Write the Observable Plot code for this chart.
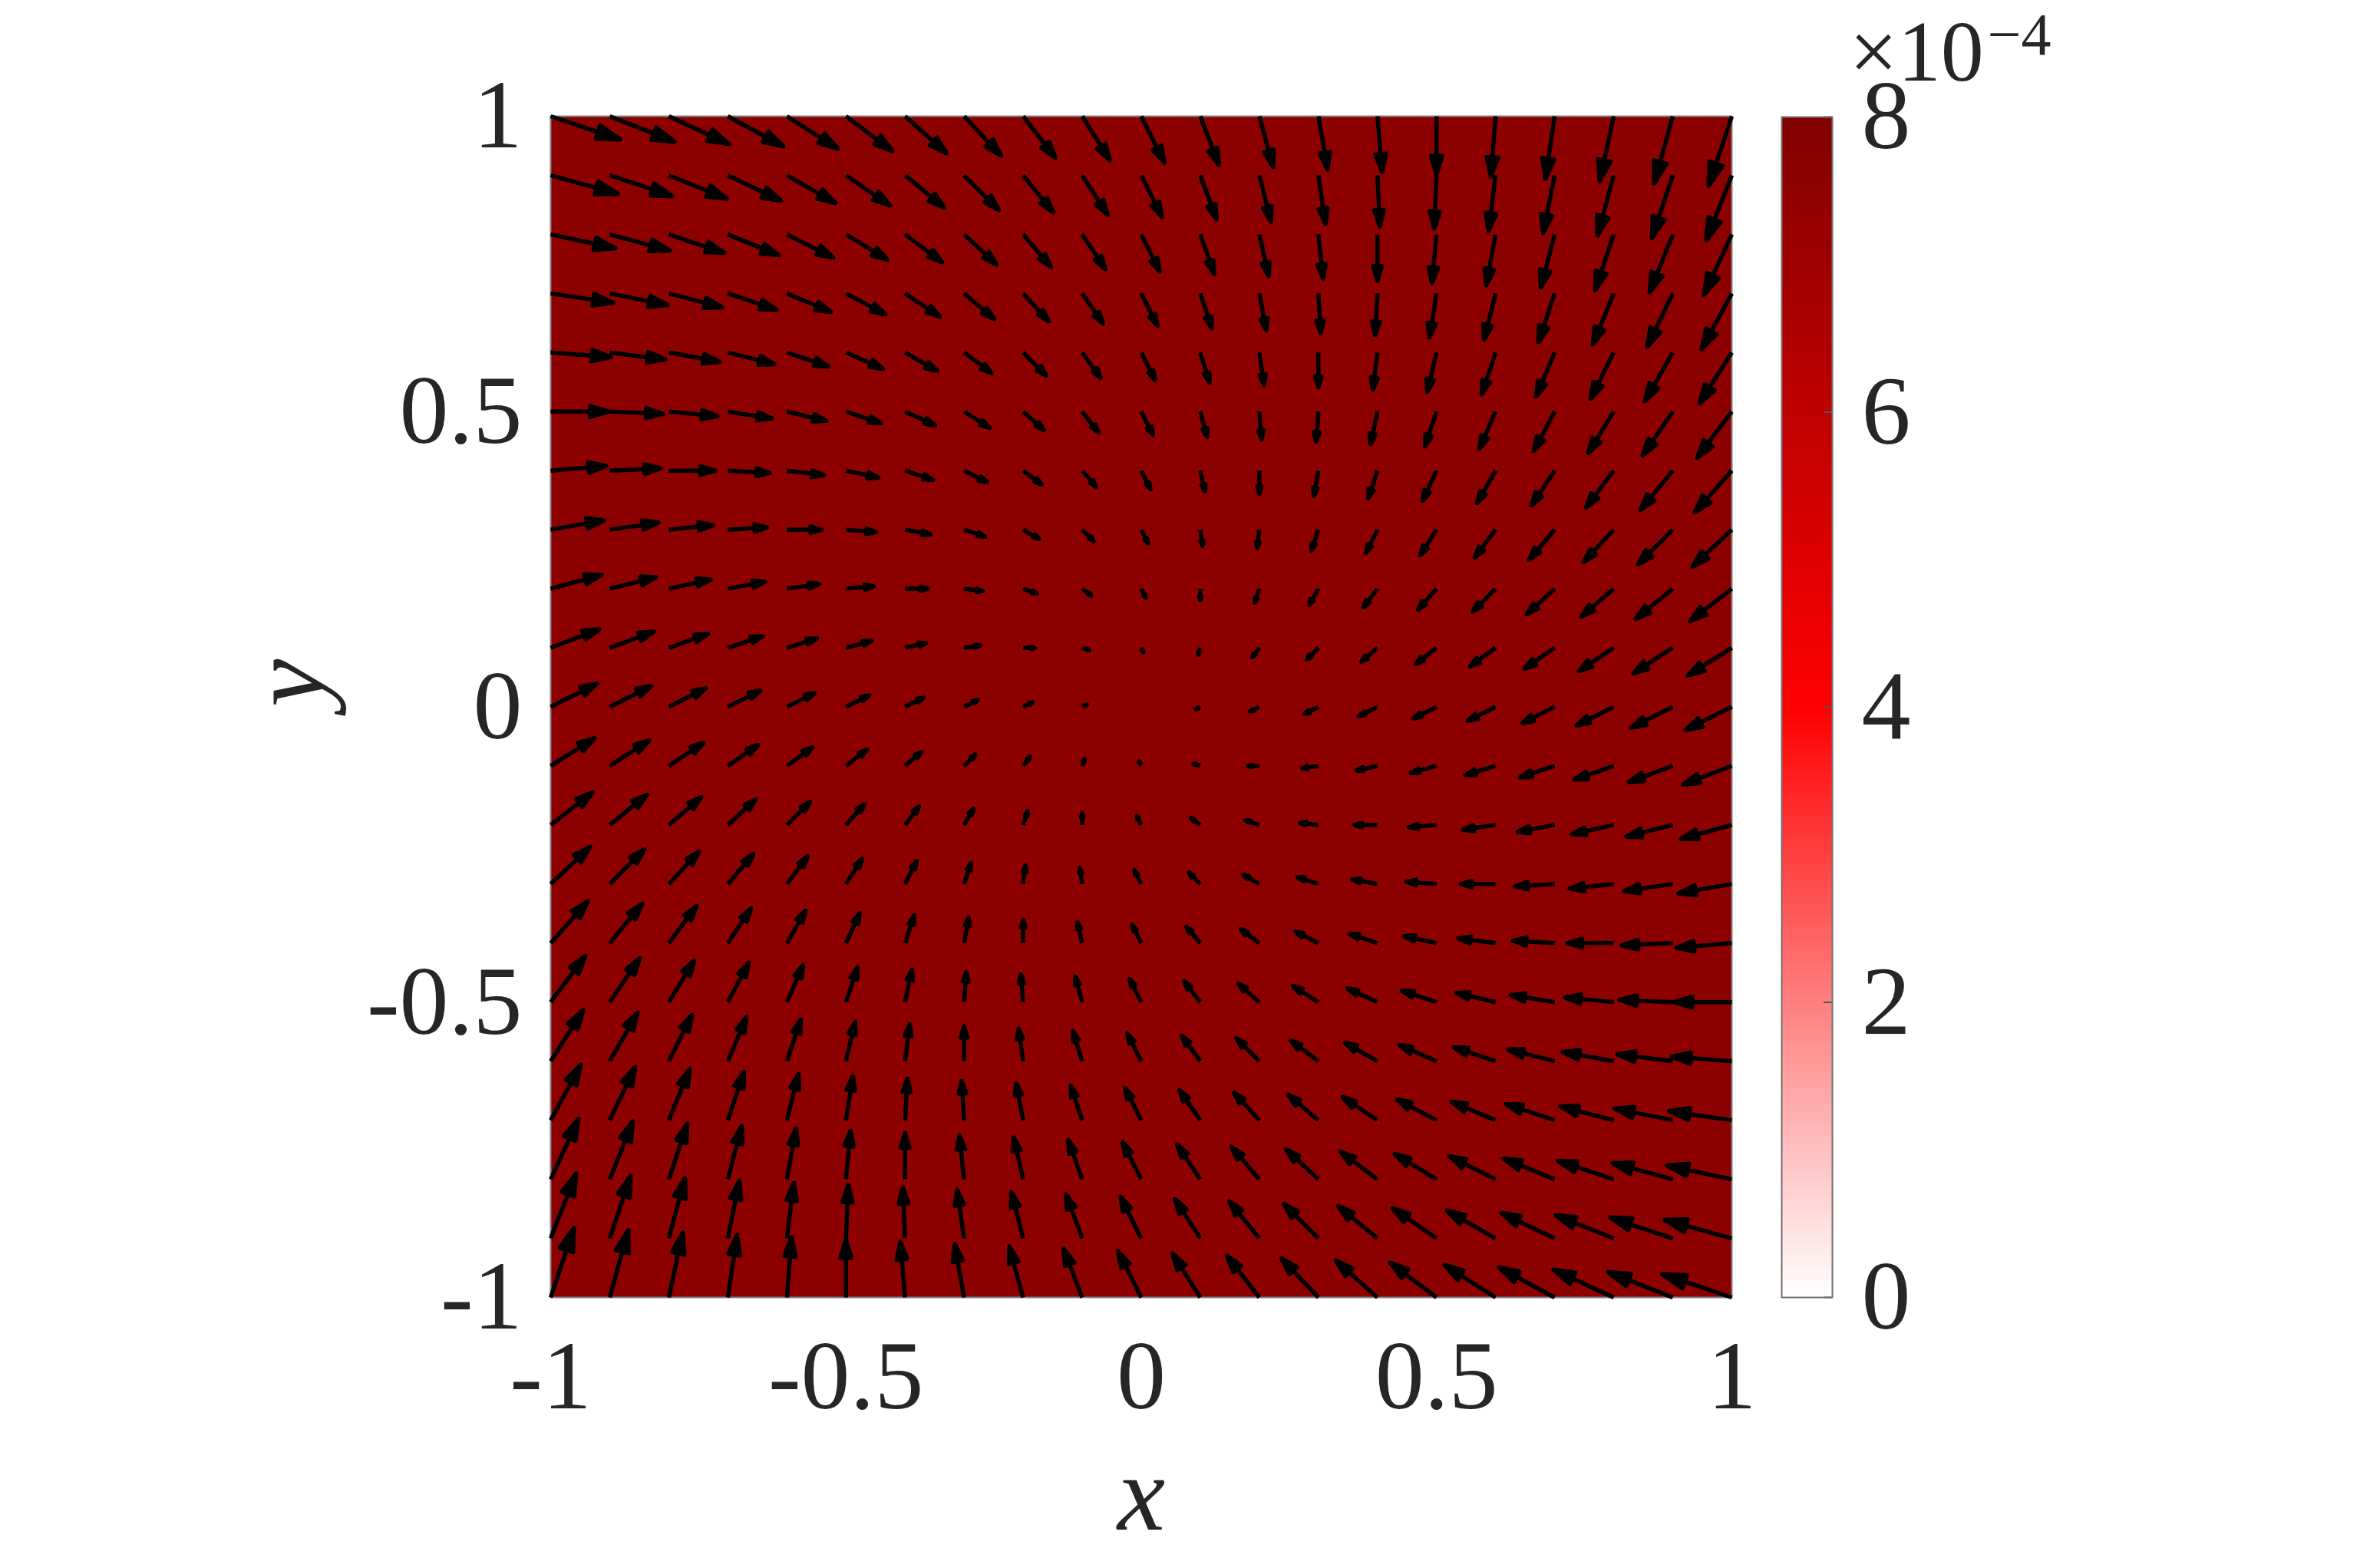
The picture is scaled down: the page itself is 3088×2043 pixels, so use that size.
<!DOCTYPE html>
<html>
<head>
<meta charset="utf-8">
<script src="https://cdn.jsdelivr.net/npm/d3@7"></script>
<script src="https://cdn.jsdelivr.net/npm/@observablehq/plot@0.6"></script>
<style>
  html, body { margin: 0; padding: 0; background: #ffffff; }
  #wrap { position: relative; width: 3088px; height: 2043px; overflow: hidden; }
  #cb { position: absolute; left: 2321px; top: 0px; width: 767px; height: 2043px; }
</style>
</head>
<body>
<div id="wrap"><div id="main"></div><div id="cb"></div></div>
<script>
// ---- grid coordinates ----
const xs = [-1, -0.9, -0.8, -0.7, -0.6, -0.5, -0.4, -0.3, -0.2, -0.1, 0, 0.1, 0.2, 0.3, 0.4, 0.5, 0.6, 0.7, 0.8, 0.9, 1];
const ys = [1, 0.9, 0.8, 0.7, 0.6, 0.5, 0.4, 0.3, 0.2, 0.1, 0, -0.1, -0.2, -0.3, -0.4, -0.5, -0.6, -0.7, -0.8, -0.9, -1];

// ---- vector components, one row per y (top to bottom), one column per x ----
const U = [
  [1.5,1.4,1.3,1.2,1.1,1,0.9,0.8,0.7,0.6,0.5,0.4,0.3,0.2,0.1,0,-0.1,-0.2,-0.3,-0.4,-0.5],
  [1.45,1.35,1.25,1.15,1.05,0.95,0.85,0.75,0.65,0.55,0.45,0.35,0.25,0.15,0.05,-0.05,-0.15,-0.25,-0.35,-0.45,-0.55],
  [1.4,1.3,1.2,1.1,1,0.9,0.8,0.7,0.6,0.5,0.4,0.3,0.2,0.1,0,-0.1,-0.2,-0.3,-0.4,-0.5,-0.6],
  [1.35,1.25,1.15,1.05,0.95,0.85,0.75,0.65,0.55,0.45,0.35,0.25,0.15,0.05,-0.05,-0.15,-0.25,-0.35,-0.45,-0.55,-0.65],
  [1.3,1.2,1.1,1,0.9,0.8,0.7,0.6,0.5,0.4,0.3,0.2,0.1,0,-0.1,-0.2,-0.3,-0.4,-0.5,-0.6,-0.7],
  [1.25,1.15,1.05,0.95,0.85,0.75,0.65,0.55,0.45,0.35,0.25,0.15,0.05,-0.05,-0.15,-0.25,-0.35,-0.45,-0.55,-0.65,-0.75],
  [1.2,1.1,1,0.9,0.8,0.7,0.6,0.5,0.4,0.3,0.2,0.1,0,-0.1,-0.2,-0.3,-0.4,-0.5,-0.6,-0.7,-0.8],
  [1.15,1.05,0.95,0.85,0.75,0.65,0.55,0.45,0.35,0.25,0.15,0.05,-0.05,-0.15,-0.25,-0.35,-0.45,-0.55,-0.65,-0.75,-0.85],
  [1.1,1,0.9,0.8,0.7,0.6,0.5,0.4,0.3,0.2,0.1,0,-0.1,-0.2,-0.3,-0.4,-0.5,-0.6,-0.7,-0.8,-0.9],
  [1.05,0.95,0.85,0.75,0.65,0.55,0.45,0.35,0.25,0.15,0.05,-0.05,-0.15,-0.25,-0.35,-0.45,-0.55,-0.65,-0.75,-0.85,-0.95],
  [1,0.9,0.8,0.7,0.6,0.5,0.4,0.3,0.2,0.1,0,-0.1,-0.2,-0.3,-0.4,-0.5,-0.6,-0.7,-0.8,-0.9,-1],
  [0.95,0.85,0.75,0.65,0.55,0.45,0.35,0.25,0.15,0.05,-0.05,-0.15,-0.25,-0.35,-0.45,-0.55,-0.65,-0.75,-0.85,-0.95,-1.05],
  [0.9,0.8,0.7,0.6,0.5,0.4,0.3,0.2,0.1,0,-0.1,-0.2,-0.3,-0.4,-0.5,-0.6,-0.7,-0.8,-0.9,-1,-1.1],
  [0.85,0.75,0.65,0.55,0.45,0.35,0.25,0.15,0.05,-0.05,-0.15,-0.25,-0.35,-0.45,-0.55,-0.65,-0.75,-0.85,-0.95,-1.05,-1.15],
  [0.8,0.7,0.6,0.5,0.4,0.3,0.2,0.1,0,-0.1,-0.2,-0.3,-0.4,-0.5,-0.6,-0.7,-0.8,-0.9,-1,-1.1,-1.2],
  [0.75,0.65,0.55,0.45,0.35,0.25,0.15,0.05,-0.05,-0.15,-0.25,-0.35,-0.45,-0.55,-0.65,-0.75,-0.85,-0.95,-1.05,-1.15,-1.25],
  [0.7,0.6,0.5,0.4,0.3,0.2,0.1,0,-0.1,-0.2,-0.3,-0.4,-0.5,-0.6,-0.7,-0.8,-0.9,-1,-1.1,-1.2,-1.3],
  [0.65,0.55,0.45,0.35,0.25,0.15,0.05,-0.05,-0.15,-0.25,-0.35,-0.45,-0.55,-0.65,-0.75,-0.85,-0.95,-1.05,-1.15,-1.25,-1.35],
  [0.6,0.5,0.4,0.3,0.2,0.1,0,-0.1,-0.2,-0.3,-0.4,-0.5,-0.6,-0.7,-0.8,-0.9,-1,-1.1,-1.2,-1.3,-1.4],
  [0.55,0.45,0.35,0.25,0.15,0.05,-0.05,-0.15,-0.25,-0.35,-0.45,-0.55,-0.65,-0.75,-0.85,-0.95,-1.05,-1.15,-1.25,-1.35,-1.45],
  [0.5,0.4,0.3,0.2,0.1,0,-0.1,-0.2,-0.3,-0.4,-0.5,-0.6,-0.7,-0.8,-0.9,-1,-1.1,-1.2,-1.3,-1.4,-1.5]
];
const V = [
  [-0.5,-0.55,-0.6,-0.65,-0.7,-0.75,-0.8,-0.85,-0.9,-0.95,-1,-1.05,-1.1,-1.15,-1.2,-1.25,-1.3,-1.35,-1.4,-1.45,-1.5],
  [-0.4,-0.45,-0.5,-0.55,-0.6,-0.65,-0.7,-0.75,-0.8,-0.85,-0.9,-0.95,-1,-1.05,-1.1,-1.15,-1.2,-1.25,-1.3,-1.35,-1.4],
  [-0.3,-0.35,-0.4,-0.45,-0.5,-0.55,-0.6,-0.65,-0.7,-0.75,-0.8,-0.85,-0.9,-0.95,-1,-1.05,-1.1,-1.15,-1.2,-1.25,-1.3],
  [-0.2,-0.25,-0.3,-0.35,-0.4,-0.45,-0.5,-0.55,-0.6,-0.65,-0.7,-0.75,-0.8,-0.85,-0.9,-0.95,-1,-1.05,-1.1,-1.15,-1.2],
  [-0.1,-0.15,-0.2,-0.25,-0.3,-0.35,-0.4,-0.45,-0.5,-0.55,-0.6,-0.65,-0.7,-0.75,-0.8,-0.85,-0.9,-0.95,-1,-1.05,-1.1],
  [0,-0.05,-0.1,-0.15,-0.2,-0.25,-0.3,-0.35,-0.4,-0.45,-0.5,-0.55,-0.6,-0.65,-0.7,-0.75,-0.8,-0.85,-0.9,-0.95,-1],
  [0.1,0.05,0,-0.05,-0.1,-0.15,-0.2,-0.25,-0.3,-0.35,-0.4,-0.45,-0.5,-0.55,-0.6,-0.65,-0.7,-0.75,-0.8,-0.85,-0.9],
  [0.2,0.15,0.1,0.05,0,-0.05,-0.1,-0.15,-0.2,-0.25,-0.3,-0.35,-0.4,-0.45,-0.5,-0.55,-0.6,-0.65,-0.7,-0.75,-0.8],
  [0.3,0.25,0.2,0.15,0.1,0.05,0,-0.05,-0.1,-0.15,-0.2,-0.25,-0.3,-0.35,-0.4,-0.45,-0.5,-0.55,-0.6,-0.65,-0.7],
  [0.4,0.35,0.3,0.25,0.2,0.15,0.1,0.05,0,-0.05,-0.1,-0.15,-0.2,-0.25,-0.3,-0.35,-0.4,-0.45,-0.5,-0.55,-0.6],
  [0.5,0.45,0.4,0.35,0.3,0.25,0.2,0.15,0.1,0.05,0,-0.05,-0.1,-0.15,-0.2,-0.25,-0.3,-0.35,-0.4,-0.45,-0.5],
  [0.6,0.55,0.5,0.45,0.4,0.35,0.3,0.25,0.2,0.15,0.1,0.05,0,-0.05,-0.1,-0.15,-0.2,-0.25,-0.3,-0.35,-0.4],
  [0.7,0.65,0.6,0.55,0.5,0.45,0.4,0.35,0.3,0.25,0.2,0.15,0.1,0.05,0,-0.05,-0.1,-0.15,-0.2,-0.25,-0.3],
  [0.8,0.75,0.7,0.65,0.6,0.55,0.5,0.45,0.4,0.35,0.3,0.25,0.2,0.15,0.1,0.05,0,-0.05,-0.1,-0.15,-0.2],
  [0.9,0.85,0.8,0.75,0.7,0.65,0.6,0.55,0.5,0.45,0.4,0.35,0.3,0.25,0.2,0.15,0.1,0.05,0,-0.05,-0.1],
  [1,0.95,0.9,0.85,0.8,0.75,0.7,0.65,0.6,0.55,0.5,0.45,0.4,0.35,0.3,0.25,0.2,0.15,0.1,0.05,0],
  [1.1,1.05,1,0.95,0.9,0.85,0.8,0.75,0.7,0.65,0.6,0.55,0.5,0.45,0.4,0.35,0.3,0.25,0.2,0.15,0.1],
  [1.2,1.15,1.1,1.05,1,0.95,0.9,0.85,0.8,0.75,0.7,0.65,0.6,0.55,0.5,0.45,0.4,0.35,0.3,0.25,0.2],
  [1.3,1.25,1.2,1.15,1.1,1.05,1,0.95,0.9,0.85,0.8,0.75,0.7,0.65,0.6,0.55,0.5,0.45,0.4,0.35,0.3],
  [1.4,1.35,1.3,1.25,1.2,1.15,1.1,1.05,1,0.95,0.9,0.85,0.8,0.75,0.7,0.65,0.6,0.55,0.5,0.45,0.4],
  [1.5,1.45,1.4,1.35,1.3,1.25,1.2,1.15,1.1,1.05,1,0.95,0.9,0.85,0.8,0.75,0.7,0.65,0.6,0.55,0.5]
];

// ---- background level (x 1e-4) and colorbar ----
const bgLevel = 7.6;
const cbDomain = [0, 4, 8];
const cbColors = ["#ffffff", "#ff0000", "#800000"];
const cbTicks = [0, 2, 4, 6, 8];
const xTicks = [-1, -0.5, 0, 0.5, 1];
const yTicks = [-1, -0.5, 0, 0.5, 1];
const cbExponent = "−4";

// ---- layout ----
const W = 3088, H = 2043;
const mL = 717, mR = 832, mT = 151, mB = 353;
const frameW = W - mL - mR;
const arrowScale = 0.0786;              // data units per unit of vector magnitude
const lengthPx = arrowScale * frameW / 2; // same, in pixels
const font = "'Liberation Serif', 'DejaVu Serif', serif";
const ink = "#262626";

const colorOpts = {type: "linear", domain: cbDomain, range: cbColors, interpolate: "rgb"};

const field = [];
ys.forEach((y, j) => xs.forEach((x, i) => field.push({x, y, u: U[j][i], v: V[j][i]})));

const arrowShape = {
  draw(context, l) {
    if (!(l > 0)) return;
    const h = 0.32 * l, w = 0.095 * l;
    context.moveTo(0, 0);
    context.lineTo(0, -l + h);
    context.moveTo(0, -l);
    context.lineTo(-w, -l + h);
    context.lineTo(w, -l + h);
    context.closePath();
  }
};

const fmt = d => String(d);

const main = Plot.plot({
  width: W, height: H,
  marginLeft: mL, marginRight: mR, marginTop: mT, marginBottom: mB,
  style: {fontFamily: font, fontSize: "128px", color: ink, background: "#ffffff"},
  x: {domain: d3.extent(xs), ticks: xTicks, tickFormat: fmt, tickSize: 0, tickPadding: 54, label: null},
  y: {domain: d3.extent(ys), ticks: yTicks, tickFormat: fmt, tickSize: 0, tickPadding: 37, label: null},
  color: colorOpts,
  length: {type: "linear", domain: [0, 1], range: [0, lengthPx]},
  marks: [
    Plot.rect([{level: bgLevel}], {x1: d3.min(xs), x2: d3.max(xs), y1: d3.min(ys), y2: d3.max(ys), fill: "level"}),
    Plot.frame({stroke: "#808080", strokeWidth: 2}),
    Plot.vector(field, {
      x: "x", y: "y",
      length: d => Math.hypot(d.u, d.v),
      rotate: d => Math.atan2(d.u, d.v) * 180 / Math.PI,
      anchor: "start",
      shape: arrowShape,
      fill: "#000000", stroke: "#000000", strokeWidth: 5.5,
      strokeLinejoin: "round", strokeLinecap: "butt"
    }),
    Plot.text(["x"], {text: d => d, frameAnchor: "bottom", dy: 258, lineAnchor: "middle",
      fontSize: 140, fontStyle: "italic", fill: ink}),
    Plot.text(["y"], {text: d => d, frameAnchor: "left", dx: -341, rotate: -90, lineAnchor: "middle",
      fontSize: 140, fontStyle: "italic", fill: ink})
  ]
});
document.getElementById("main").appendChild(main);

// ---- colorbar ----
const cbW = 66;
const cbMarks = [];
if (typeof Plot.raster === "function") {
  cbMarks.push(Plot.raster({x1: 0, x2: 1, y1: cbDomain[0], y2: cbDomain[2], fill: (x, y) => y, width: 1, height: 1538}));
} else {
  const levels = d3.ticks(0, 8, 400);
  cbMarks.push(Plot.rectY(levels.slice(1), {x1: 0, x2: 1, y1: (d, i) => levels[i], y2: d => d, fill: d => d, inset: 0}));
}
cbMarks.push(
  Plot.tickY(cbTicks, {y: d => d, insetLeft: cbW - 11, stroke: "#555555", strokeWidth: 2}),
  Plot.frame({stroke: "#707070", strokeWidth: 2}),
  Plot.text(["×10"], {text: d => d, frameAnchor: "top-left", textAnchor: "start", lineAnchor: "bottom",
    dx: 88, dy: -48, fontSize: 112, fill: ink}),
  Plot.text([cbExponent], {text: d => d, frameAnchor: "top-left", textAnchor: "start", lineAnchor: "bottom",
    dx: 268, dy: -82, fontSize: 78, fill: ink})
);

const cb = Plot.plot({
  width: 767, height: H,
  marginLeft: 0, marginRight: 767 - cbW, marginTop: 152, marginBottom: 353,
  style: {fontFamily: font, fontSize: "128px", color: ink, background: "transparent", overflow: "visible"},
  x: {domain: [0, 1], axis: null},
  y: {domain: [cbDomain[0], cbDomain[2]], ticks: cbTicks, tickFormat: fmt, tickSize: 0, tickPadding: 38, axis: "right", label: null},
  color: colorOpts,
  marks: cbMarks
});
document.getElementById("cb").appendChild(cb);
</script>
</body>
</html>
